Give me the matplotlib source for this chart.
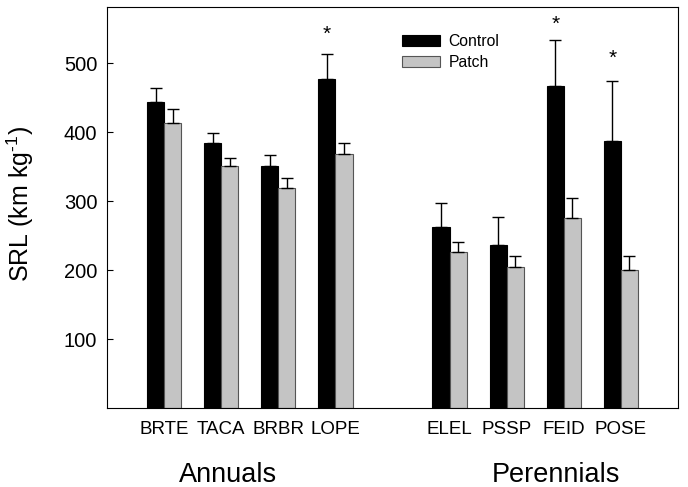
import numpy as np
import matplotlib
matplotlib.use("Agg")
import matplotlib.pyplot as plt
import matplotlib.transforms as mtransforms

plt.rcParams["font.family"] = ["Liberation Sans", "DejaVu Sans"]
plt.rcParams["mathtext.fontset"] = "custom"
plt.rcParams["mathtext.rm"] = "Liberation Sans"
plt.rcParams["mathtext.it"] = "Liberation Sans"

species = ["BRTE", "TACA", "BRBR", "LOPE", "ELEL", "PSSP", "FEID", "POSE"]
positions = [0, 1, 2, 3, 5, 6, 7, 8]
control = [444, 385, 351, 477, 262, 237, 467, 387]
control_se = [20, 14, 16, 36, 36, 40, 66, 87]
patch = [414, 351, 319, 368, 227, 204, 275, 200]
patch_se = [20, 12, 14, 17, 14, 17, 30, 21]
star_species = ["LOPE", "FEID", "POSE"]
star_y = [545, 560, 510]
groups = ["Annuals", "Perennials"]
group_x = [1.12, 6.87]

width = 0.30
x = np.array(positions, dtype=float)

fig = plt.figure(figsize=(6.88, 4.87), dpi=100)
ax = fig.add_axes([0.1555, 0.162, 0.83, 0.823])

err_kw = dict(ecolor="black", elinewidth=1.0, capsize=4.5, capthick=1.0)
ax.bar(x - width / 2, control, width, color="black", edgecolor="black",
       linewidth=0.8, label="Control",
       yerr=[np.zeros(len(control)), control_se], error_kw=err_kw)
ax.bar(x + width / 2, patch, width, color="#c4c4c4", edgecolor="#555555",
       linewidth=0.8, label="Patch",
       yerr=[np.zeros(len(patch)), patch_se], error_kw=err_kw)

for name, y in zip(star_species, star_y):
    i = species.index(name)
    ax.text(x[i] - width / 2, y - 3, "*", ha="center", va="center", fontsize=15)

ax.set_xlim(-1, 9)
ax.set_ylim(0, 581)
ax.set_yticks([100, 200, 300, 400, 500])
ax.set_xticks(x)
ax.set_xticklabels(species)
ax.tick_params(axis="x", length=0, pad=9, labelsize=13.5)
ax.tick_params(axis="y", direction="in", length=4.5, pad=7, labelsize=14.5)
ax.set_ylabel(r"SRL (km kg$^{\text{-1}}$)", fontsize=18)
ax.yaxis.set_label_coords(-0.125, 0.51)

trans = mtransforms.blended_transform_factory(ax.transData, ax.transAxes)
for g, gx in zip(groups, group_x):
    ax.text(gx, -0.184, g, transform=trans, ha="center", va="baseline",
            fontsize=19.5)

ax.legend(loc="upper left", bbox_to_anchor=(0.517, 0.933), frameon=False,
          fontsize=11.3, handlelength=2.4, handleheight=0.65,
          handletextpad=0.55, labelspacing=0.38, borderpad=0, borderaxespad=0)

fig.savefig("out.png", dpi=100)
